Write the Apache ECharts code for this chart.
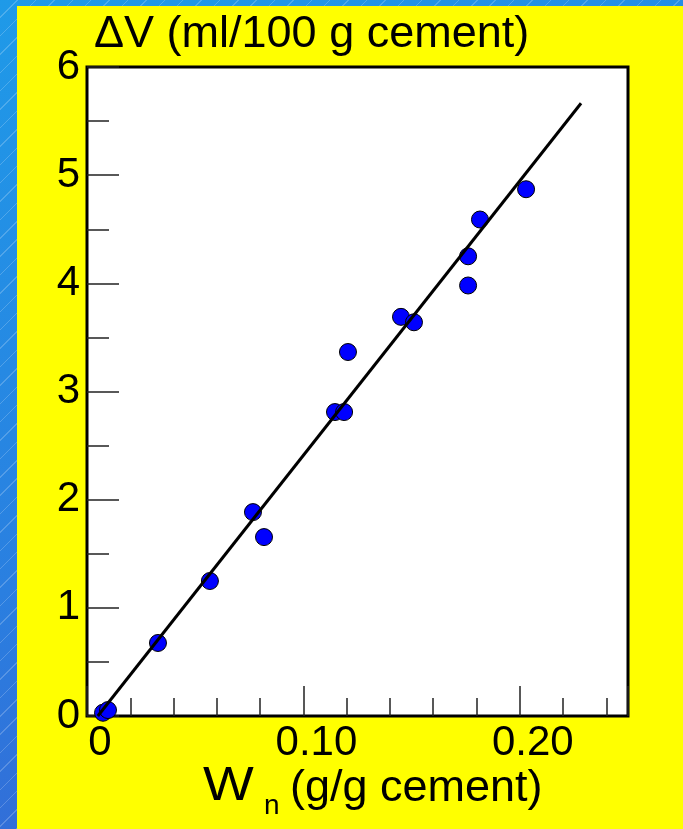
<!DOCTYPE html>
<html style="height: 100%">
<head>
<meta charset="utf-8">
<style>
body {
    margin: 0; height: 100%; overflow: hidden;
    background: repeating-linear-gradient(135deg, rgba(255,255,255,0) 0px, rgba(255,255,255,0) 12px, rgba(255,255,255,0.2) 12px, rgba(255,255,255,0.2) 13px),
                linear-gradient(160deg, #1f9ae8 0%, #2a7fe0 55%, #3a5ed0 100%);
}
#panel { position: absolute; left: 17px; top: 6px; right: 0; bottom: 0; background: #ffff00; }
#container { position: absolute; left: 0; top: 0; width: 683px; height: 829px; }
</style>
</head>
<body>
<div id="panel"></div>
<div id="container"></div>
<script src="https://cdn.jsdelivr.net/npm/echarts@6/dist/echarts.min.js"></script>
<script type="text/javascript">
// measured points: Wn (g/g cement) vs dV (ml/100 g cement)
var wn = [0.0074, 0.0097, 0.0328, 0.0568, 0.0767, 0.0818, 0.1146, 0.1188, 0.1206, 0.1451, 0.1511, 0.1761, 0.1761, 0.1816, 0.2029];
var dv = [0.03, 0.055, 0.675, 1.248, 1.885, 1.654, 2.81, 2.81, 3.365, 3.69, 3.64, 3.98, 4.25, 4.59, 4.87];
// fitted line end points
var fitX = [0.005, 0.2283];
var fitY = [0.0, 5.665];
var xLabels = ['0', '0.10', '0.20'];

var dom = document.getElementById('container');
var myChart = echarts.init(dom);

var pts = wn.map(function (x, i) { return [x, dv[i]]; });
var fit = fitX.map(function (x, i) { return [x, fitY[i]]; });
var font = '"Liberation Sans", Arial, sans-serif';

var option = {
    backgroundColor: 'transparent',
    animation: false,
    grid: {
        left: 87, right: 55, top: 67, bottom: 113,
        show: true, backgroundColor: '#fff', borderColor: '#000', borderWidth: 3
    },
    graphic: [
        { type: 'text', left: 94, top: 12, style: { text: '\u0394V (ml/100 g cement)', font: '45px ' + font, fill: '#000' } },
        { type: 'text', left: 203, top: 763, scaleX: 1.12, style: { text: 'W', font: '48px ' + font, fill: '#000' } },
        { type: 'text', left: 264, top: 792, style: { text: 'n', font: '28px ' + font, fill: '#000' } },
        { type: 'text', left: 290, top: 766, style: { text: '(g/g cement)', font: '45px ' + font, fill: '#000' } }
    ],
    xAxis: [{
        type: 'value', min: 0, max: 0.25, interval: 0.1,
        axisLine: { show: false },
        splitLine: { show: false },
        axisTick: { inside: true, length: 30, lineStyle: { color: '#222', width: 1.5 } },
        axisLabel: {
            fontSize: 42, fontFamily: font, color: '#000', margin: 6, padding: [0, 0, 0, 26],
            formatter: function (v) {
                var k = Math.round(v * 10);
                return Math.abs(v * 10 - k) < 1e-6 && xLabels[k] !== undefined ? xLabels[k] : '';
            }
        }
    }, {
        type: 'value', min: 0, max: 0.25, interval: 0.02, position: 'bottom',
        axisLine: { show: false },
        splitLine: { show: false },
        axisLabel: { show: false },
        axisTick: { inside: true, length: 18, lineStyle: { color: '#222', width: 1.5 } }
    }],
    yAxis: {
        type: 'value', min: 0, max: 6, interval: 1,
        axisLine: { show: false },
        splitLine: { show: false },
        axisTick: { inside: true, length: 32, lineStyle: { color: '#222', width: 1.5 } },
        minorTick: { show: true, splitNumber: 2, length: 22, lineStyle: { color: '#222', width: 1.5 } },
        axisLabel: { fontSize: 42, fontFamily: font, color: '#000', margin: 7 }
    },
    series: [
        {
            type: 'line', data: fit, symbol: 'none', silent: true,
            lineStyle: { color: '#000', width: 3 }
        },
        {
            type: 'scatter', data: pts, symbolSize: 17,
            itemStyle: { color: '#0000ff', borderColor: '#000', borderWidth: 1, opacity: 1 }
        }
    ]
};
myChart.setOption(option, true);
</script>
</body>
</html>
